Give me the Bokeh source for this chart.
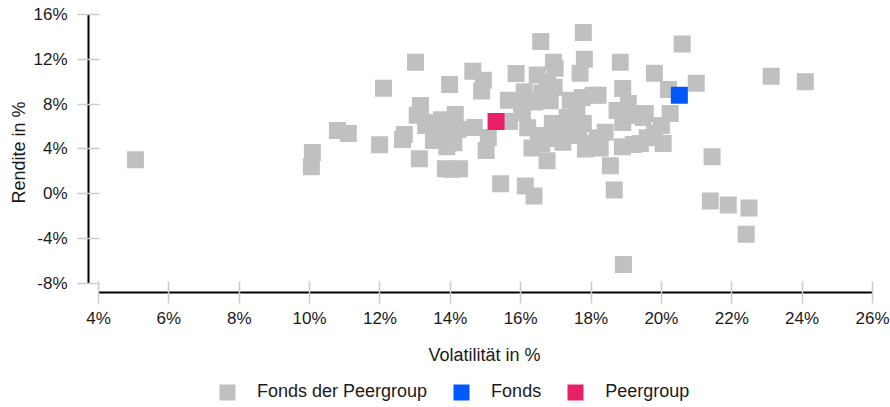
from bokeh.plotting import figure
from bokeh.layouts import column
from bokeh.models import Range1d, FixedTicker, PrintfTickFormatter, Legend, LegendItem
from bokeh.embed import file_html
from bokeh.resources import INLINE

# ---- data ----
peer_vol = [5.05, 10.08, 10.05, 10.79, 11.10, 11.99, 12.10, 12.64, 12.69, 13.01,
            13.12, 13.15, 13.06, 13.52, 13.78, 13.52, 14.00, 14.22, 14.14, 13.30,
            13.75, 14.10, 13.90, 14.68, 15.08, 15.02, 13.86, 14.05, 14.26, 13.98,
            14.64, 14.94, 14.89, 15.43, 16.13, 16.38, 15.68, 15.65, 15.87, 16.57,
            16.93, 17.78, 17.81, 17.69, 16.47, 16.98, 16.76, 16.10, 16.60, 16.95,
            16.40, 16.84, 16.03, 17.41, 17.75, 18.06, 17.60, 16.05, 16.20, 16.32,
            16.75, 16.90, 16.84, 17.32, 17.47, 17.92, 17.78, 18.18, 17.84, 18.26,
            18.89, 19.40, 19.60, 20.05, 18.55, 18.66, 20.59, 18.83, 19.80, 20.20,
            20.99, 23.12, 24.09, 18.90, 18.20, 19.06, 18.74, 19.54, 20.25, 19.10,
            18.90, 19.48, 20.00, 21.44, 21.39, 21.90, 22.49, 22.41, 18.92, 17.00,
            17.20, 16.50, 18.40, 19.80, 19.20, 17.65, 16.60, 13.40, 13.60]
peer_ret = [3.05, 3.68, 2.42, 5.65, 5.38, 4.39, 9.42, 4.84, 5.29, 11.75,
            3.14, 7.89, 7.00, 6.37, 5.55, 4.75, 5.10, 5.75, 7.08, 6.10,
            6.60, 4.55, 4.20, 5.92, 5.02, 3.86, 2.24, 2.20, 2.24, 9.75,
            10.94, 10.13, 9.18, 0.90, 0.70, -0.20, 6.46, 8.34, 10.73, 13.60,
            11.75, 14.40, 12.00, 10.76, 10.60, 11.20, 10.00, 9.10, 9.00, 9.50,
            8.20, 8.30, 7.74, 8.34, 8.60, 8.80, 7.70, 7.26, 5.90, 4.10,
            2.96, 6.28, 4.93, 6.80, 5.47, 4.48, 6.28, 5.00, 4.00, 4.10,
            4.20, 4.50, 5.00, 4.48, 2.50, 0.35, 13.36, 11.75, 10.76, 9.30,
            9.87, 10.49, 10.00, 9.40, 8.80, 8.07, 7.44, 7.17, 7.17, 7.00,
            6.37, 6.80, 6.10, 3.30, -0.63, -0.99, -1.26, -3.60, -6.30, 5.60,
            4.60, 5.20, 5.50, 5.40, 4.40, 5.20, 4.50, 6.20, 5.30]
fonds_vol = [20.51]
fonds_ret = [8.79]
group_vol = [15.30]
group_ret = [6.46]

series_names = ["Fonds der Peergroup", "Fonds", "Peergroup"]
series_colors = ["#c0c0c0", "#0058ff", "#e8206a"]
series_x = [peer_vol, fonds_vol, group_vol]
series_y = [peer_ret, fonds_ret, group_ret]

x_ticks = [4, 6, 8, 10, 12, 14, 16, 18, 20, 22, 24, 26]
y_ticks = [-8, -4, 0, 4, 8, 12, 16]

FONT = "Liberation Sans"

p = figure(frame_width=792, frame_height=280, output_backend="svg", toolbar_location=None,
           x_range=Range1d(3.7157, 26.2274), y_range=Range1d(-8.803, 16.178),
           min_border_left=88, min_border_right=10, min_border_top=12,
           min_border_bottom=0)
p.outline_line_color = None
p.xgrid.grid_line_color = None
p.ygrid.grid_line_color = None

for ax in (p.xaxis[0], p.yaxis[0]):
    ax.axis_line_color = "#000000"
    ax.axis_line_width = 2
    ax.major_tick_line_color = "#cccccc"
    ax.major_tick_line_width = 1.5
    ax.major_tick_in = 11
    ax.major_tick_out = 11
    ax.minor_tick_line_color = None
    ax.major_label_text_font = FONT
    ax.major_label_text_font_size = "17px"
    ax.major_label_text_color = "#1a1a1a"
    ax.axis_label_text_font = FONT
    ax.axis_label_text_font_size = "18px"
    ax.axis_label_text_font_style = "normal"
    ax.axis_label_text_color = "#1a1a1a"
    ax.formatter = PrintfTickFormatter(format="%d%%")

p.xaxis[0].ticker = FixedTicker(ticks=x_ticks)
p.yaxis[0].ticker = FixedTicker(ticks=y_ticks)
p.xaxis[0].bounds = (x_ticks[0], x_ticks[-1])
p.yaxis[0].bounds = (y_ticks[0], y_ticks[-1])
p.xaxis[0].axis_label = "Volatilität in %"
p.yaxis[0].axis_label = "Rendite in %"
p.xaxis[0].major_label_standoff = 5
p.xaxis[0].axis_label_standoff = 14
p.yaxis[0].major_label_standoff = 10
p.yaxis[0].axis_label_standoff = 1

for xs, ys, col in zip(series_x, series_y, series_colors):
    p.rect(x=xs, y=ys, width=17, height=17,
           width_units="screen", height_units="screen",
           fill_color=col, line_color=None)

# legend strip below the chart: same series, drawn outside its (empty) view range
q = figure(width=890, height=40, output_backend="svg", toolbar_location=None,
           x_range=Range1d(0, 1), y_range=Range1d(0, 1),
           x_axis_location=None, y_axis_location=None, min_border=0)
q.outline_line_color = None
q.xgrid.grid_line_color = None
q.ygrid.grid_line_color = None
keys = []
for name, xs, ys, col in zip(series_names, series_x, series_y, series_colors):
    r = q.rect(x=xs, y=ys, width=17, height=17, width_units="screen",
               height_units="screen", fill_color=col, line_color=None)
    keys.append(LegendItem(label=name, renderers=[r]))
legend = Legend(items=keys, orientation="horizontal", location=(129, 5),
                glyph_width=20, glyph_height=20, label_standoff=20, spacing=24,
                padding=0, margin=0, border_line_color=None,
                background_fill_alpha=0,
                label_text_font=FONT, label_text_font_size="18px",
                label_text_color="#1a1a1a")
q.add_layout(legend)

layout = column(p, q, spacing=0)
open("out.html", "w").write(file_html(layout, INLINE))
